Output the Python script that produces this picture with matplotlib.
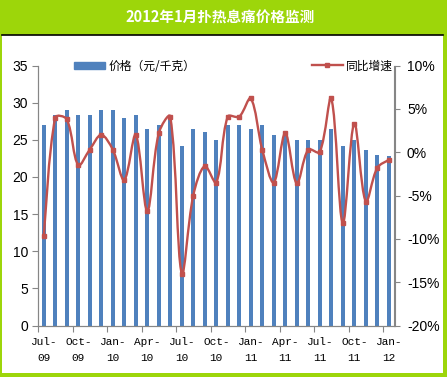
import numpy as np
import matplotlib
matplotlib.use("Agg")
import matplotlib.pyplot as plt
from matplotlib.path import Path
from matplotlib.patches import PathPatch, Rectangle
from matplotlib.lines import Line2D

plt.rcParams['font.family'] = ['Noto Sans CJK SC', 'DejaVu Sans']

# data (Jul-09 .. Jan-12, monthly)
price = [27.0, 28.3, 29.0, 28.4, 28.4, 29.0, 29.0, 28.0, 28.4, 26.4, 27.0,
         28.2, 24.1, 26.4, 26.1, 25.0, 27.0, 27.0, 26.4, 27.0, 25.6, 25.6,
         25.0, 25.0, 25.0, 26.4, 24.2, 25.0, 23.6, 23.0, 22.8]
yoy = [-9.7, 4.0, 3.8, -1.5, 0.3, 2.0, 0.3, -3.2, 2.0, -6.8, 2.2,
       4.1, -14.0, -5.0, -1.6, -3.5, 4.1, 4.1, 6.2, 0.3, -3.5, 2.2,
       -3.6, 0.3, 0.0, 6.2, -8.2, 3.3, -5.7, -1.8, -0.9]
month_labels = ["Jul-\n09", "Oct-\n09", "Jan-\n10", "Apr-\n10", "Jul-\n10", "Oct-\n10",
                "Jan-\n11", "Apr-\n11", "Jul-\n11", "Oct-\n11", "Jan-\n12"]
left_ticks = [0, 5, 10, 15, 20, 25, 30, 35]
right_ticks = [-20, -15, -10, -5, 0, 5, 10]
right_labels = ["-20%", "-15%", "-10%", "-5%", "0%", "5%", "10%"]
title = "2012年1月扑热息痛价格监测"
bar_name = "价格（元/千克）"
line_name = "同比增速"

green = '#9DD60A'
blue = '#4F81BD'
red = '#C0504D'
gray = '#868686'

W, H = 447, 377
fig = plt.figure(figsize=(W / 100, H / 100), dpi=100, facecolor=green)

# white panel + black rule under the title bar
fig.add_artist(Rectangle((2 / W, 4 / H), 441 / W, (H - 4 - 35) / H,
                         transform=fig.transFigure, facecolor='white', edgecolor='none', zorder=0))
fig.add_artist(Line2D([2 / W, 443 / W], [(H - 34.5) / H] * 2, transform=fig.transFigure,
                      color='black', lw=1.2, zorder=1))
fig.text(220 / W, (H - 17.5) / H, title, color='white', fontsize=10.5, fontweight='bold',
         ha='center', va='center')

ax = fig.add_axes([38 / W, (H - 325.5) / H, (394.5 - 38) / W, (325.5 - 65.5) / H])
ax.set_facecolor('none')
x = np.arange(len(price))
bars = ax.bar(x, price, width=0.38, color=blue, zorder=2)
ax.set_xlim(-0.5, len(price) - 0.5)
ax.set_ylim(0, 35)
ax.set_yticks(left_ticks)
ax.set_yticklabels([str(v) for v in left_ticks], family='Liberation Sans', fontsize=10)

ax.set_xticks(np.arange(-0.5, len(price) - 1, 3))
ax.set_xticklabels([])
ax.set_xticks(np.arange(0, len(price), 3), minor=True)
ax.set_xticklabels(month_labels, minor=True, family='Liberation Mono', fontsize=8,
                   linespacing=1.75)
ax.tick_params(axis='x', which='minor', length=0, pad=8)
ax.tick_params(axis='x', which='major', length=4, color=gray, direction='out')
ax.tick_params(axis='y', length=4, color=gray, direction='out', pad=3)

ax.spines['top'].set_visible(False)
for s in ['left', 'bottom', 'right']:
    ax.spines[s].set_color(gray)

ax2 = ax.twinx()
ax2.set_ylim(-20, 10)
ax2.set_yticks(right_ticks)
ax2.set_yticklabels(right_labels, family='Liberation Sans', fontsize=10)
ax2.tick_params(axis='y', length=4, color=gray, direction='out', pad=5)
ax2.spines['top'].set_visible(False)
for s in ['left', 'bottom', 'right']:
    ax2.spines[s].set_color(gray)

# smoothed line: cubic Bezier through the points, tangents scaled by chord
# length in screen units (the way spreadsheet "smoothed line" looks)
sx, sy = 11.5, 8.67   # px per category, px per percent
pts = np.column_stack([x * sx, np.array(yoy) * sy]).astype(float)
n = len(pts)


def dist(a, b):
    return np.hypot(*(a - b))


verts = [pts[0]]
for i in range(n - 1):
    p0 = pts[max(i - 1, 0)]
    p1 = pts[i]
    p2 = pts[i + 1]
    p3 = pts[min(i + 2, n - 1)]
    d01, d12, d23 = dist(p0, p1), dist(p1, p2), dist(p2, p3)
    t1 = (p2 - p0) * (d12 / (d01 + d12) / 3 if d01 > 0 else 1 / 6)
    t2 = (p3 - p1) * (d12 / (d12 + d23) / 3 if d23 > 0 else 1 / 6)
    verts += [p1 + t1, p2 - t2, p2]
verts = np.array(verts) / [sx, sy]
codes = [Path.MOVETO] + [Path.CURVE4] * (3 * (n - 1))
ax2.add_patch(PathPatch(Path(verts, codes), fill=False, edgecolor=red, lw=1.7, zorder=3))
ax2.plot(x, yoy, linestyle='none', marker='s', markersize=3.5, color=red, zorder=4)

fig.legend(handles=[Rectangle((0, 0), 1, 1, color=blue)], labels=[bar_name],
           loc='center left', bbox_to_anchor=(74 / W, (H - 66) / H), frameon=False,
           fontsize=8.5, borderpad=0, borderaxespad=0, handlelength=2.6,
           handleheight=0.6, handletextpad=0.3)
fig.legend(handles=[Line2D([], [], color=red, lw=1.7, marker='s', markersize=3.5)],
           labels=[line_name], loc='center left',
           bbox_to_anchor=(312 / W, (H - 66) / H), frameon=False, fontsize=8.5,
           borderpad=0, borderaxespad=0, handlelength=2.6, handletextpad=0.3)

fig.savefig('out.png', dpi=100, facecolor=green)
